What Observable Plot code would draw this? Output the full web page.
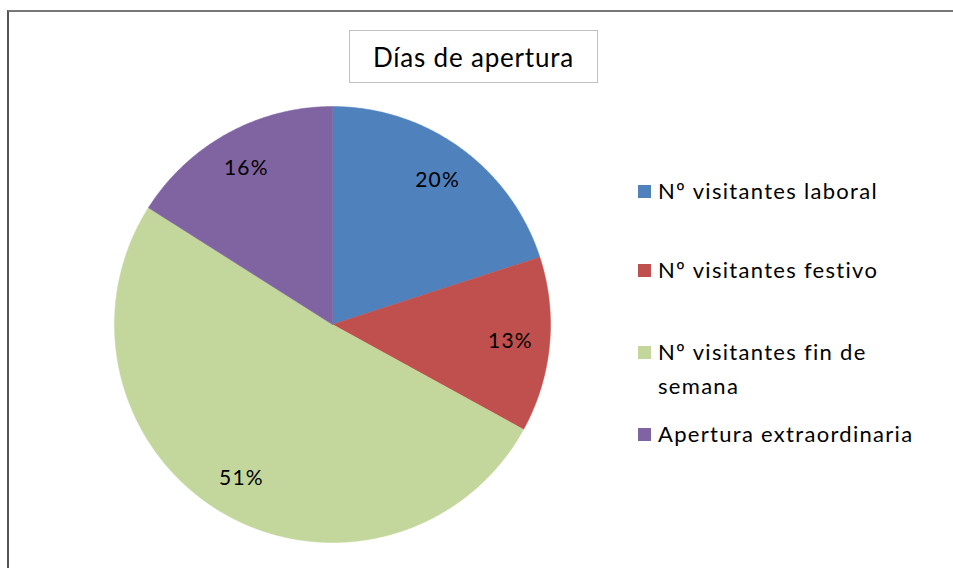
<!DOCTYPE html>
<html>
<head>
<meta charset="utf-8">
<script src="https://cdn.jsdelivr.net/npm/d3@7"></script>
<script src="https://cdn.jsdelivr.net/npm/@observablehq/plot@0.6"></script>
<style>
  html, body { margin: 0; padding: 0; background: #fff; }
  #wrap { position: relative; width: 953px; height: 568px; overflow: hidden; font-family: Lato, "Open Sans", sans-serif; }
  #frame { position: absolute; left: 7px; top: 10px; width: 1000px; height: 600px; border-left: 2px solid #555; border-top: 2px solid #777; box-sizing: border-box; }
  #title { position: absolute; left: 349px; top: 30px; width: 249px; height: 53px; border: 1.5px solid #c0c0c0; box-sizing: border-box; display: flex; align-items: center; justify-content: center; font-size: 26px; letter-spacing: 0.8px; color: #000; background: #fff; }
  #legend { position: absolute; left: 638px; top: 0; font-size: 22px; letter-spacing: 1.3px; color: #000; }
  .item { position: absolute; left: 0; display: flex; align-items: flex-start; white-space: nowrap; line-height: 34px; }
  .sw { width: 13px; height: 13px; margin-top: 11px; margin-right: 7px; flex: none; }
  svg { position: absolute; left: 0; top: 0; }
  svg text { letter-spacing: 1.2px; }
</style>
</head>
<body>
<div id="wrap">
  <div id="chart"></div>
  <div id="frame"></div>
  <div id="title">Días de apertura</div>
  <div id="legend"></div>
</div>
<script>
const categories = ["Nº visitantes laboral", "Nº visitantes festivo", "Nº visitantes fin de semana", "Apertura extraordinaria"];
const values = [20, 13, 51, 16];
const labels = ["20%", "13%", "51%", "16%"];
const legendLines = [["Nº visitantes laboral"], ["Nº visitantes festivo"], ["Nº visitantes fin de", "semana"], ["Apertura extraordinaria"]];
const colors = ["#4F81BD", "#C0504D", "#C3D69B", "#8064A2"];

const total = d3.sum(values);
const slices = [];
const labelData = [];
let acc = 0;
values.forEach((v, i) => {
  const a0 = acc / total * 2 * Math.PI;
  acc += v;
  const a1 = acc / total * 2 * Math.PI;
  const n = Math.max(2, Math.ceil((a1 - a0) / (Math.PI / 360)));
  slices.push({cat: categories[i], x: 0, y: 0});
  for (let k = 0; k <= n; k++) {
    const a = a0 + (a1 - a0) * k / n;
    slices.push({cat: categories[i], x: Math.sin(a), y: Math.cos(a)});
  }
  slices.push({cat: categories[i], x: 0, y: 0});
  const am = (a0 + a1) / 2;
  labelData.push({label: labels[i], x: 0.82 * Math.sin(am), y: 0.82 * Math.cos(am)});
});

const plot = Plot.plot({
  width: 953,
  height: 568,
  marginLeft: 114,
  marginRight: 403,
  marginTop: 106,
  marginBottom: 26,
  x: {domain: [-1, 1], axis: null},
  y: {domain: [-1, 1], axis: null},
  color: {domain: categories, range: colors},
  style: {background: "transparent", fontFamily: "Lato, 'Open Sans', sans-serif"},
  marks: [
    Plot.line(slices, {x: "x", y: "y", z: "cat", fill: "cat", stroke: "cat", strokeWidth: 0.5, curve: "linear"}),
    Plot.text(labelData, {x: "x", y: "y", text: "label", fontSize: 21, fill: "#000"})
  ]
});
document.getElementById("chart").appendChild(plot);

const legendTops = [174, 253, 335, 417];
const legend = document.getElementById("legend");
legendLines.forEach((lines, i) => {
  const it = document.createElement("div");
  it.className = "item";
  it.style.top = legendTops[i] + "px";
  const sw = document.createElement("div");
  sw.className = "sw";
  sw.style.background = colors[i];
  const tx = document.createElement("div");
  lines.forEach((ln, j) => {
    if (j) tx.appendChild(document.createElement("br"));
    tx.appendChild(document.createTextNode(ln));
  });
  it.appendChild(sw);
  it.appendChild(tx);
  legend.appendChild(it);
});
</script>
</body>
</html>
